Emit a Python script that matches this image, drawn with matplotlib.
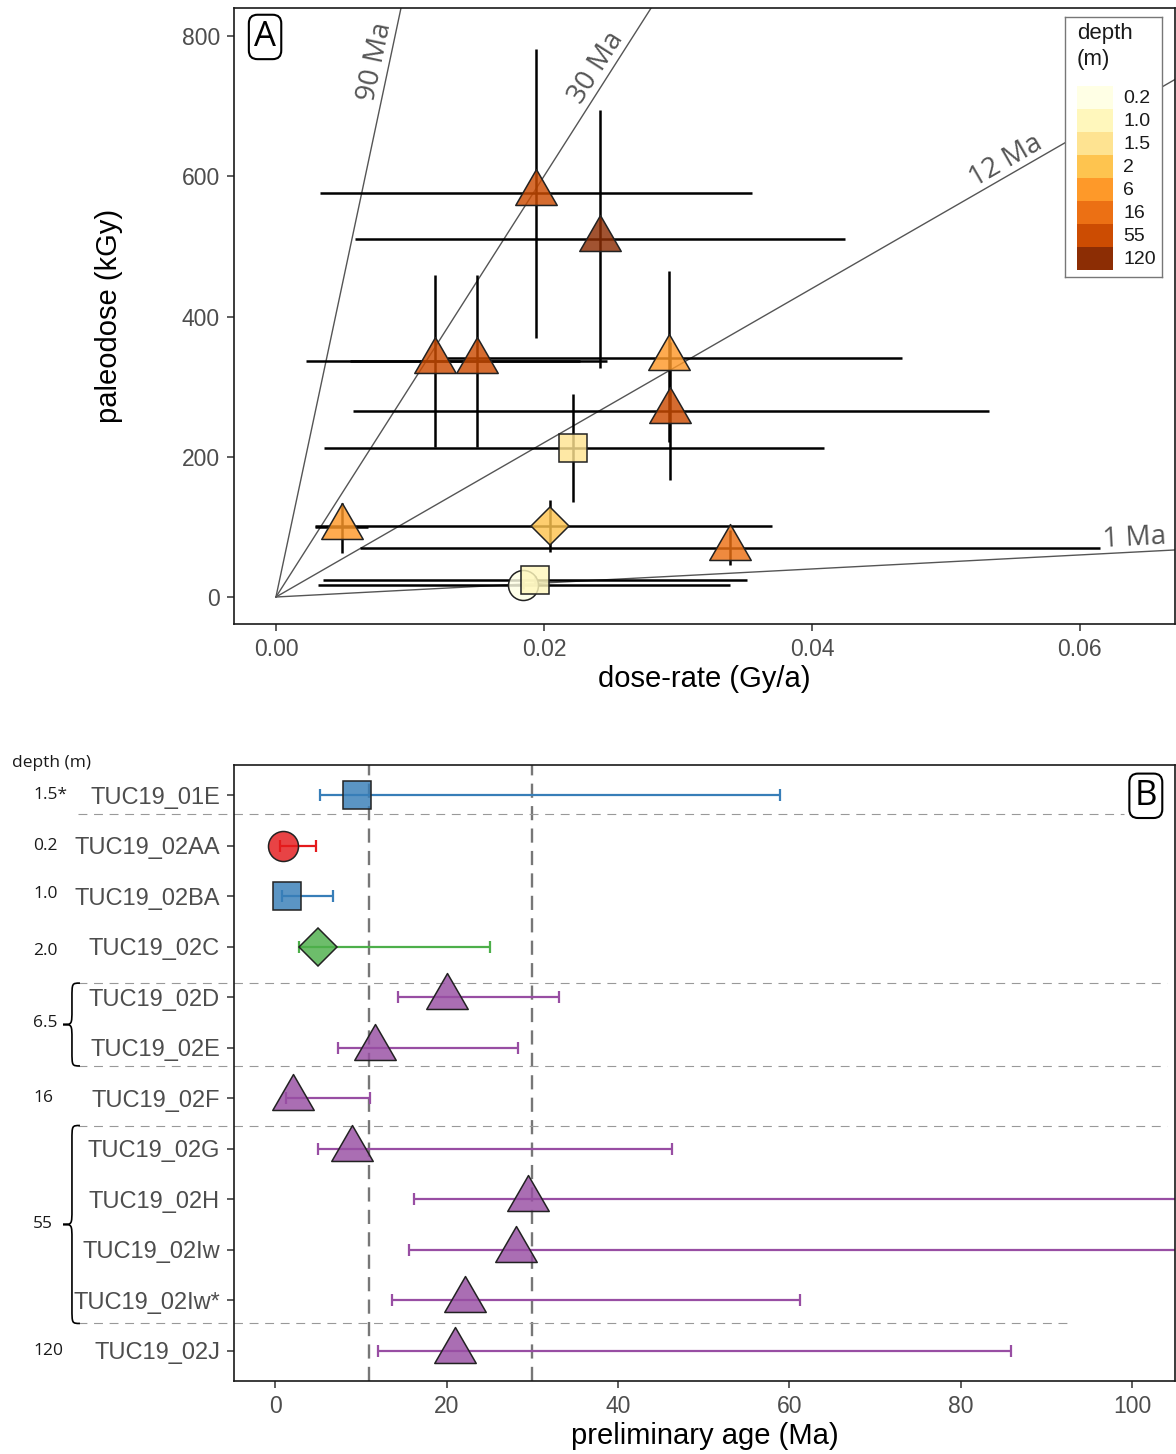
import numpy as np
import matplotlib
matplotlib.use('Agg')
import matplotlib.pyplot as plt
from matplotlib.path import Path
from matplotlib.patches import PathPatch, Rectangle
from matplotlib.transforms import blended_transform_factory
from matplotlib.colors import to_rgba

plt.rcParams['font.family'] = ['Liberation Sans', 'DejaVu Sans']
ann_font = ['Open Sans', 'DejaVu Sans']

samples = ['TUC19_01E', 'TUC19_02AA', 'TUC19_02BA', 'TUC19_02C', 'TUC19_02D', 'TUC19_02E',
           'TUC19_02F', 'TUC19_02G', 'TUC19_02H', 'TUC19_02Iw', 'TUC19_02Iw*', 'TUC19_02J']
depth_class = ['1.5', '0.2', '1.0', '2', '6', '6', '16', '55', '55', '55', '55', '120']
shape = ['square', 'circle', 'square', 'diamond', 'triangle', 'triangle',
         'triangle', 'triangle', 'triangle', 'triangle', 'triangle', 'triangle']
group_color = ['#377eb8', '#e41a1c', '#377eb8', '#4daf4a', '#984ea3', '#984ea3',
               '#984ea3', '#984ea3', '#984ea3', '#984ea3', '#984ea3', '#984ea3']

# panel A: dose-rate (Gy/a) and paleodose (kGy)
dose_rate = [0.02219, 0.01846, 0.01933, 0.02045, 0.00493, 0.02935, 0.03388, 0.0294, 0.0194, 0.01189, 0.01502, 0.02418]
dose_rate_lo = [0.00358, 0.00313, 0.00351, 0.00291, 0.0029, 0.01274, 0.00627, 0.00572, 0.00328, 0.00228, 0.0055, 0.0059]
dose_rate_hi = [0.0409, 0.03388, 0.03513, 0.0370, 0.0069, 0.0467, 0.0615, 0.0532, 0.0355, 0.0247, 0.0227, 0.0425]
paleodose = [212.8, 17.1, 24.2, 101.7, 100.2, 341, 70, 265, 575.5, 336, 336, 510]
paleodose_lo = [135.8, 11, 18, 64.6, 62.7, 221, 45.6, 167, 369, 214, 214, 326]
paleodose_hi = [289, 23, 30, 138, 134, 465, 95, 363, 782, 459, 459, 694]

age_lines = [90, 30, 11, 1]
age_line_labels = ['90 Ma', '30 Ma', '12 Ma', '1 Ma']
age_label_rate = [0.00844, 0.0248, 0.055, 0.0641]

legend_levels = ['0.2', '1.0', '1.5', '2', '6', '16', '55', '120']
legend_colors = ['#ffffe5', '#fff7bc', '#fee391', '#fec44f', '#fe9929', '#ec7014', '#cc4c02', '#8c2d04']

# panel B: preliminary age (Ma)
age = [9.56, 0.89, 1.33, 4.98, 20.0, 11.64, 2.13, 8.98, 29.56, 28.1, 22.2, 21.0]
age_lo = [5.24, 0.58, 0.76, 2.8, 14.36, 7.38, 1.24, 5.02, 16.2, 15.6, 13.6, 12.0]
age_hi = [58.9, 4.76, 6.8, 25.1, 33.1, 28.3, 11.1, 46.3, 140, 135, 61.3, 85.9]
ref_ages = [11, 30]

depth_text = ['1.5*', '0.2', '1.0', '2.0', '6.5', '16', '55', '120']
depth_text_pos = [1, 2, 2.95, 4.08, 5.5, 7, 9.5, 12]
brace_spans = [(4.72, 6.36), (7.54, 11.46)]
separators = [1.38, 4.72, 6.36, 7.54, 11.46]
separator_end = [0.946, 0.991, 0.991, 0.991, 0.888]

tri = Path([(-1, -0.57735), (1, -0.57735), (0, 1.1547), (-1, -0.57735)], closed=True)
marker_style = {'square': ('s', 19.6), 'circle': ('o', 21.6), 'diamond': ('D', 19.4), 'triangle': (tri, 34.5)}

W, H = 1176, 1454
fig = plt.figure(figsize=(W / 100, H / 100), dpi=100)


def px_rect(x0, y0, x1, y1):
    return [x0 / W, 1 - y1 / H, (x1 - x0) / W, (y1 - y0) / H]


def style_axes(ax):
    for s in ax.spines.values():
        s.set_linewidth(1.2)
        s.set_color('#1a1a1a')
    ax.tick_params(direction='out', length=5, width=1.1, color='#333333',
                   labelcolor='#4d4d4d', labelsize=16.5, pad=5)


# ---------------- panel A
axA = fig.add_axes(px_rect(234, 8, 1175, 624))
style_axes(axA)
axA.set_xlim(-0.00313, 0.0671)
axA.set_ylim(-38.5, 840)
axA.set_xticks([0, 0.02, 0.04, 0.06])
axA.set_xticklabels(['0.00', '0.02', '0.04', '0.06'])
axA.set_yticks([0, 200, 400, 600, 800])

xr = np.array([0, 0.0671])
for a, lab, lr in zip(age_lines, age_line_labels, age_label_rate):
    axA.plot(xr, xr * a * 1000, color='#555555', lw=1.0, zorder=1)
    p0 = axA.transData.transform((0, 0))
    p1 = axA.transData.transform((0.05, 0.05 * a * 1000))
    ang = np.degrees(np.arctan2(p1[1] - p0[1], p1[0] - p0[0]))
    axA.text(lr, lr * a * 1000, lab, rotation=ang, rotation_mode='anchor',
             ha='center', va='bottom', fontsize=20, color='#555555', family=ann_font)

x = np.array(dose_rate)
y = np.array(paleodose)
xerr = [x - np.array(dose_rate_lo), np.array(dose_rate_hi) - x]
yerr = [y - np.array(paleodose_lo), np.array(paleodose_hi) - y]
axA.errorbar(x, y, xerr=xerr, yerr=yerr, fmt='none', ecolor='black', elinewidth=1.8, capsize=0, zorder=2)

for i in range(len(samples)):
    m, ms = marker_style[shape[i]]
    c = legend_colors[legend_levels.index(depth_class[i])]
    axA.plot(dose_rate[i], paleodose[i], marker=m, ms=ms, mfc=to_rgba(c, 0.82),
             mec='#222222', mew=1.1, ls='none', zorder=3)

axA.set_xlabel('dose-rate (Gy/a)', fontsize=21)
axA.set_ylabel('paleodose (kGy)', fontsize=21)
axA.xaxis.set_label_coords(0.5, -0.066)
axA.yaxis.set_label_coords(-0.118, 0.5)
axA.xaxis.label.set_va('top')

axA.text(0.033, 0.953, 'A', transform=axA.transAxes, ha='center', va='center', fontsize=25,
         family=ann_font, bbox=dict(boxstyle='round,pad=0.15,rounding_size=0.25', fc='white', ec='black', lw=1.5))

# legend
axL = fig.add_axes(px_rect(1065, 17, 1162, 277))
axL.set_xlim(0, 97)
axL.set_ylim(260, 0)
axL.set_xticks([])
axL.set_yticks([])
for s in axL.spines.values():
    s.set_color('#777777')
    s.set_linewidth(1.0)
axL.text(11.7, 6, 'depth\n(m)', ha='left', va='top', fontsize=16, color='#1a1a1a', linespacing=1.3)
for k, (lev, c) in enumerate(zip(legend_levels, legend_colors)):
    axL.add_patch(Rectangle((11.7, 69.3 + 23 * k), 36.6, 23, fc=c, ec='none'))
    axL.text(58.3, 69.3 + 23 * k + 12, lev, ha='left', va='center', fontsize=14, color='#1a1a1a')

# ---------------- panel B
axB = fig.add_axes(px_rect(234, 765, 1175, 1381))
style_axes(axB)
axB.tick_params(axis='y', labelsize=17)
pos = np.arange(1, len(samples) + 1)
axB.set_xlim(-4.8, 105)
axB.set_ylim(12.6, 0.4)
axB.set_xticks([0, 20, 40, 60, 80, 100])
axB.set_yticks(pos)
axB.set_yticklabels(samples)

for a in ref_ages:
    axB.axvline(a, color='#777777', lw=1.7, ls=(0, (6, 3.5)), zorder=1)

for i in range(len(samples)):
    c = group_color[i]
    axB.errorbar(age[i], pos[i], xerr=[[age[i] - age_lo[i]], [age_hi[i] - age[i]]], fmt='none',
                 ecolor=c, elinewidth=1.6, capsize=4, capthick=1.6, zorder=2)
    m, ms = marker_style[shape[i]]
    axB.plot(age[i], pos[i], marker=m, ms=ms, mfc=to_rgba(c, 0.82), mec='#222222', mew=1.1,
             ls='none', zorder=3)

bt = blended_transform_factory(axB.transAxes, axB.transData)
for yy, xe in zip(separators, separator_end):
    axB.plot([-0.166, xe], [yy, yy], transform=bt, color='#999999', lw=0.8, ls=(0, (8, 6)),
             clip_on=False, zorder=1)

for t, yy in zip(depth_text, depth_text_pos):
    axB.text(-0.2135, yy, t, transform=bt, ha='left', va='center', fontsize=12.5,
             family=ann_font, color='#1a1a1a')
axB.text(-0.2359, 0.36, 'depth (m)', transform=bt, ha='left', va='center', fontsize=12.5,
         family=ann_font, color='#1a1a1a')

xt, xm, xe = -0.1817, -0.1722, -0.1637
r = 0.3
for y0, y1 in brace_spans:
    ym = (y0 + y1) / 2
    verts = [(xe, y0), (xm, y0), (xm, y0), (xm, y0 + r),
             (xm, ym - r),
             (xm, ym), (xm, ym), (xt, ym),
             (xm, ym), (xm, ym), (xm, ym + r),
             (xm, y1 - r),
             (xm, y1), (xm, y1), (xe, y1)]
    codes = [Path.MOVETO, Path.CURVE4, Path.CURVE4, Path.CURVE4,
             Path.LINETO,
             Path.CURVE4, Path.CURVE4, Path.CURVE4,
             Path.CURVE4, Path.CURVE4, Path.CURVE4,
             Path.LINETO,
             Path.CURVE4, Path.CURVE4, Path.CURVE4]
    axB.add_patch(PathPatch(Path(verts, codes), transform=bt, fc='none', ec='black', lw=1.2, clip_on=False))

axB.set_xlabel('preliminary age (Ma)', fontsize=21)
axB.xaxis.set_label_coords(0.5, -0.066)
axB.xaxis.label.set_va('top')

axB.text(0.969, 0.95, 'B', transform=axB.transAxes, ha='center', va='center', fontsize=25,
         family=ann_font, bbox=dict(boxstyle='round,pad=0.15,rounding_size=0.25', fc='white', ec='black', lw=1.5))

fig.savefig('out.png', dpi=100)
